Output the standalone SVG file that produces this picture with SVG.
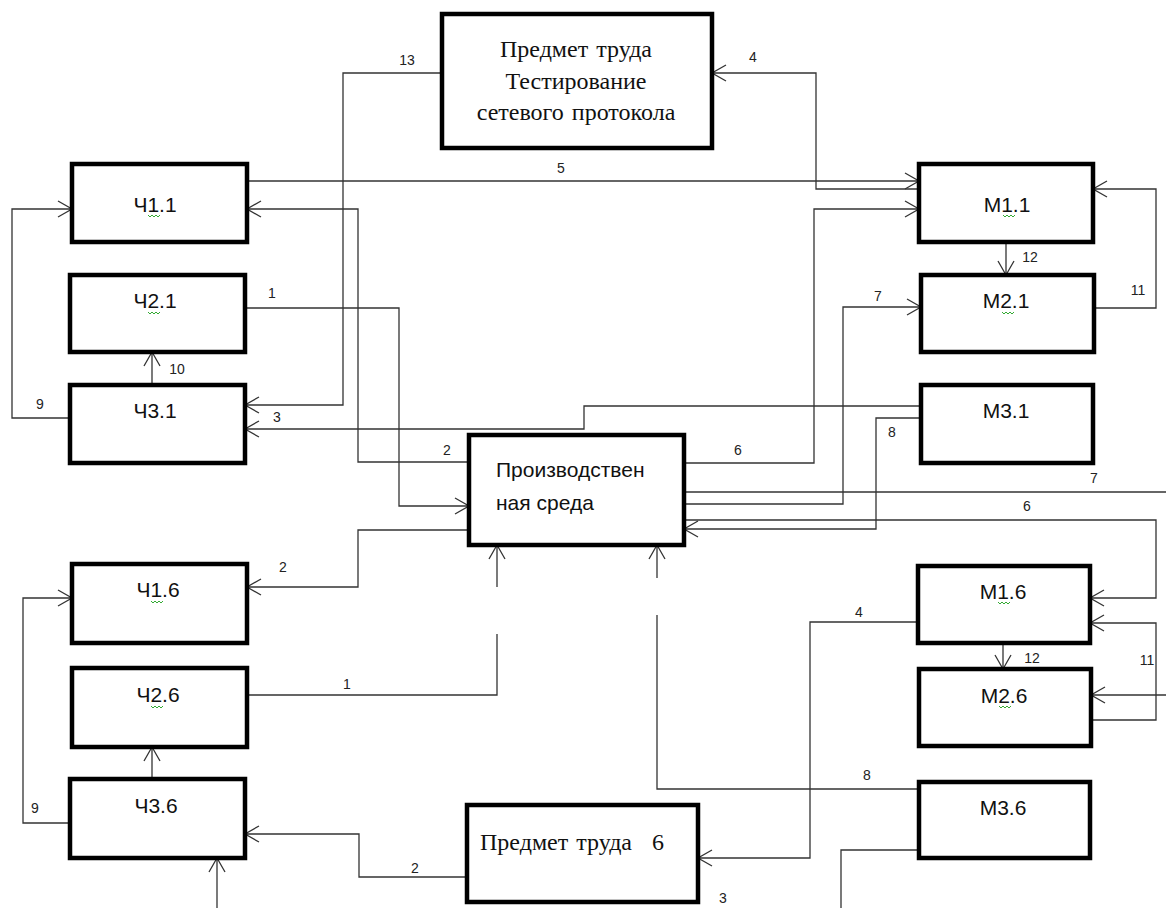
<svg xmlns="http://www.w3.org/2000/svg" width="1166" height="908" viewBox="0 0 1166 908">
<style>
.box{fill:#fff;stroke:#000;stroke-width:4.5}
.t{font-family:"Liberation Sans",Arial,sans-serif;font-size:21px;fill:#111;text-anchor:middle}
.ts{font-family:"Liberation Serif","Times New Roman",serif;font-size:24px;fill:#111;text-anchor:middle}
.ln{fill:none;stroke:#333;stroke-width:1.3}
.lb{font-family:"Liberation Sans",Arial,sans-serif;font-size:14px;fill:#222;text-anchor:middle}
.sq{fill:none;stroke:#3a3;stroke-width:1}
</style>
<defs>
<marker id="ah" markerWidth="17" markerHeight="19" refX="15" refY="9" orient="auto" markerUnits="userSpaceOnUse">
<path d="M1,1 L15,9 L1,17" fill="none" stroke="#333" stroke-width="1.3"/>
</marker>
<path id="sqp" class="sq" d="M0,0 l2,2 l2,-2 l2,2 l2,-2 l2,2 l2,-2"/>
</defs>
<rect width="1166" height="908" fill="#fff"/>

<g id="connectors">
<path class="ln" d="M247,181 H919" marker-end="url(#ah)"/>
<path class="ln" d="M919,189 H816 V73 H712" marker-end="url(#ah)"/>
<path class="ln" d="M684,463 H814 V209 H919" marker-end="url(#ah)"/>
<path class="ln" d="M1006,242 V275" marker-end="url(#ah)"/>
<path class="ln" d="M1094,308 H1156 V189 H1093" marker-end="url(#ah)"/>
<path class="ln" d="M684,504 H843 V307 H921" marker-end="url(#ah)"/>
<path class="ln" d="M921,406 H584 V429 H245" marker-end="url(#ah)"/>
<path class="ln" d="M442,73 H343 V405 H245" marker-end="url(#ah)"/>
<path class="ln" d="M921,418 H876 V529 H684" marker-end="url(#ah)"/>
<path class="ln" d="M684,492 H1166"/>
<path class="ln" d="M684,520 H1156 V598 H1090" marker-end="url(#ah)"/>
<path class="ln" d="M1091,720 H1156 V623 H1090" marker-end="url(#ah)"/>
<path class="ln" d="M1166,695 H1091" marker-end="url(#ah)"/>
<path class="ln" d="M1003,643 V669" marker-end="url(#ah)"/>
<path class="ln" d="M918,622 H810 V858 H698" marker-end="url(#ah)"/>
<path class="ln" d="M919,789 H657 V615"/>
<path class="ln" d="M657,578 V545" marker-end="url(#ah)"/>
<path class="ln" d="M919,850 H841 V908"/>
<path class="ln" d="M247,695 H497 V634"/>
<path class="ln" d="M497,587 V545" marker-end="url(#ah)"/>
<path class="ln" d="M469,530 H358 V587 H247" marker-end="url(#ah)"/>
<path class="ln" d="M70,823 H23 V598 H72" marker-end="url(#ah)"/>
<path class="ln" d="M152,779 V747" marker-end="url(#ah)"/>
<path class="ln" d="M217,908 V858" marker-end="url(#ah)"/>
<path class="ln" d="M467,877 H359 V834 H245" marker-end="url(#ah)"/>
<path class="ln" d="M70,418 H12 V209 H72" marker-end="url(#ah)"/>
<path class="ln" d="M152,385 V352" marker-end="url(#ah)"/>
<path class="ln" d="M245,308 H399 V506 H469" marker-end="url(#ah)"/>
<path class="ln" d="M469,462 H358 V209 H247" marker-end="url(#ah)"/>
<text class="lb" x="407" y="65">13</text>
<text class="lb" x="753" y="62">4</text>
<text class="lb" x="561" y="173">5</text>
<text class="lb" x="1030" y="262">12</text>
<text class="lb" x="1138" y="295">11</text>
<text class="lb" x="878" y="301">7</text>
<text class="lb" x="272" y="298">1</text>
<text class="lb" x="177" y="374">10</text>
<text class="lb" x="40" y="409">9</text>
<text class="lb" x="277" y="422">3</text>
<text class="lb" x="892" y="437">8</text>
<text class="lb" x="447" y="455">2</text>
<text class="lb" x="738" y="455">6</text>
<text class="lb" x="1094" y="483">7</text>
<text class="lb" x="1027" y="511">6</text>
<text class="lb" x="283" y="572">2</text>
<text class="lb" x="859" y="617">4</text>
<text class="lb" x="1032" y="663">12</text>
<text class="lb" x="1147" y="665">11</text>
<text class="lb" x="347" y="689">1</text>
<text class="lb" x="867" y="780">8</text>
<text class="lb" x="35" y="813">9</text>
<text class="lb" x="415" y="873">2</text>
<text class="lb" x="723" y="903">3</text>
</g>

<g id="predmet-top">
<rect class="box" x="442" y="14" width="270" height="134"/>
<text class="ts" x="576" y="57" word-spacing="2">Предмет труда</text>
<text class="ts" x="576" y="89">Тестирование</text>
<text class="ts" x="576" y="120" word-spacing="2">сетевого протокола</text>
</g>
<g id="ch1-1"><rect class="box" x="72" y="164" width="175" height="78"/><text class="t" x="155" y="212">Ч1.1</text><use href="#sqp" x="148" y="215"/></g>
<g id="ch2-1"><rect class="box" x="70" y="275" width="175" height="77"/><text class="t" x="155" y="308">Ч2.1</text><use href="#sqp" x="148" y="312"/></g>
<g id="ch3-1"><rect class="box" x="70" y="385" width="175" height="78"/><text class="t" x="155" y="418">Ч3.1</text></g>
<g id="m1-1"><rect class="box" x="919" y="164" width="174" height="78"/><text class="t" x="1007" y="212">М1.1</text><use href="#sqp" x="1003" y="215"/></g>
<g id="m2-1"><rect class="box" x="921" y="275" width="173" height="77"/><text class="t" x="1006" y="308">М2.1</text><use href="#sqp" x="1002" y="312"/></g>
<g id="m3-1"><rect class="box" x="921" y="385" width="172" height="78"/><text class="t" x="1006" y="418">М3.1</text></g>
<g id="sreda"><rect class="box" x="469" y="435" width="215" height="110"/>
<text class="t" x="496" y="477" style="text-anchor:start">Производствен</text>
<text class="t" x="496" y="510" style="text-anchor:start">ная среда</text></g>
<g id="ch1-6"><rect class="box" x="72" y="564" width="175" height="79"/><text class="t" x="158" y="597">Ч1.6</text><use href="#sqp" x="151" y="601"/></g>
<g id="ch2-6"><rect class="box" x="72" y="668" width="175" height="79"/><text class="t" x="158" y="702">Ч2.6</text><use href="#sqp" x="151" y="706"/></g>
<g id="ch3-6"><rect class="box" x="70" y="779" width="175" height="79"/><text class="t" x="156" y="813">Ч3.6</text></g>
<g id="m1-6"><rect class="box" x="918" y="566" width="172" height="77"/><text class="t" x="1003" y="599">М1.6</text><use href="#sqp" x="998" y="602"/></g>
<g id="m2-6"><rect class="box" x="919" y="669" width="172" height="77"/><text class="t" x="1004" y="703">М2.6</text><use href="#sqp" x="999" y="706"/></g>
<g id="m3-6"><rect class="box" x="919" y="782" width="171" height="76"/><text class="t" x="1003" y="815">М3.6</text></g>
<g id="predmet-6"><rect class="box" x="467" y="805" width="231" height="97"/>
<text class="ts" x="480" y="850" style="text-anchor:start" word-spacing="2">Предмет труда</text>
<text class="ts" x="658" y="850">6</text></g>
</svg>
